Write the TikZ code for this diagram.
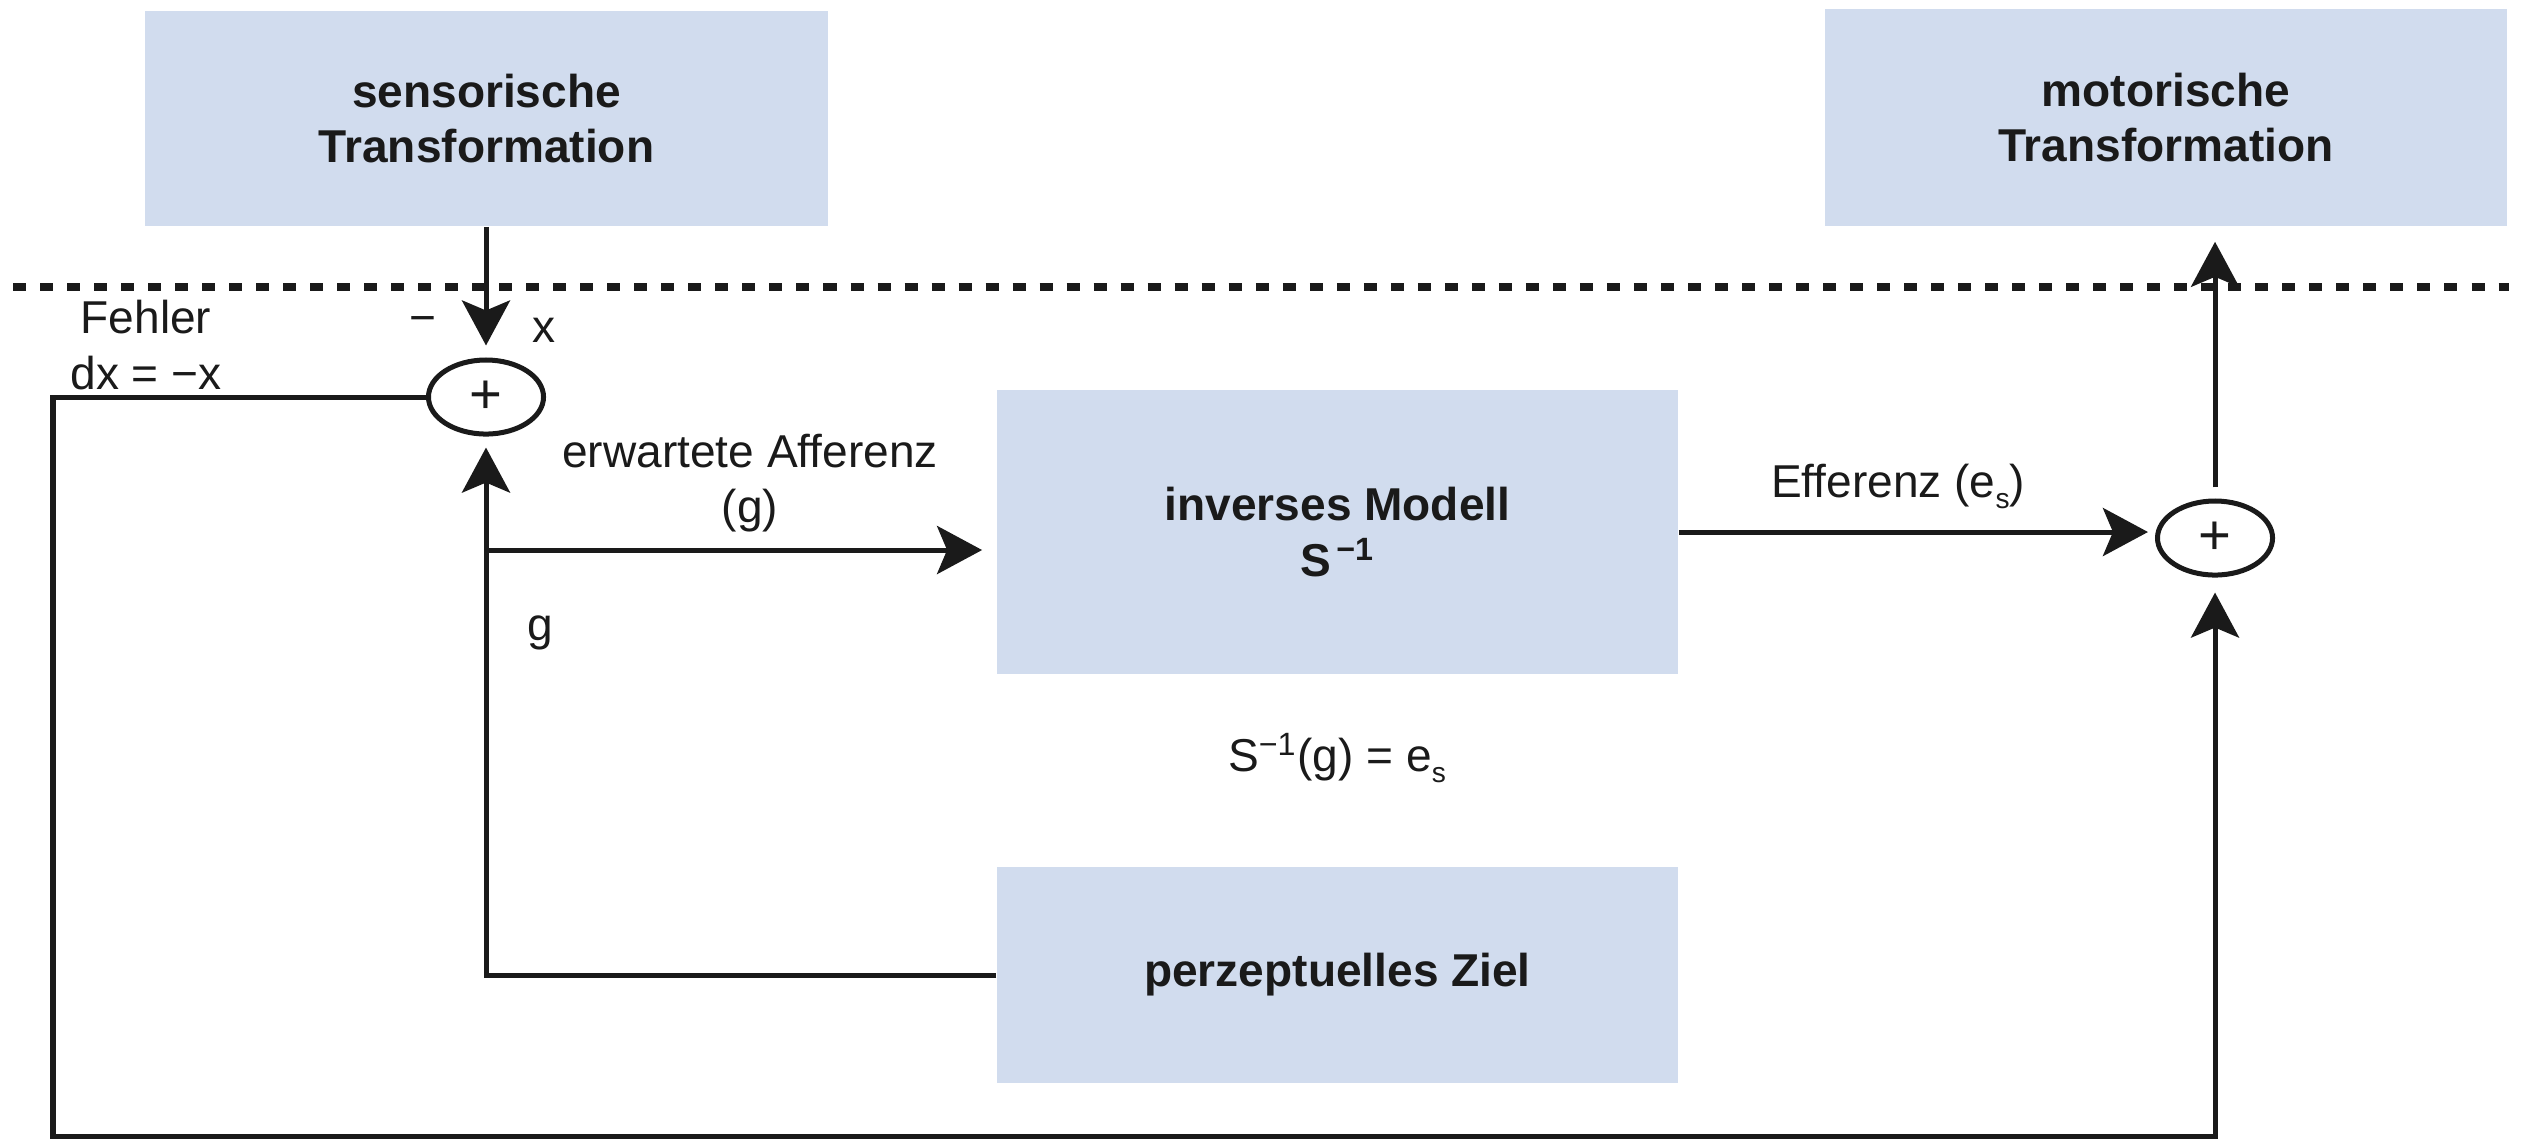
\documentclass[tikz,border=0pt]{standalone}
\usepackage{fontspec}
\setmainfont{Liberation Sans}
\usetikzlibrary{arrows.meta,shapes.geometric,calc}
\definecolor{boxblue}{HTML}{D1DCEE}
\definecolor{ink}{HTML}{1A1A1A}
\begin{document}
\begin{tikzpicture}[x=0.01cm,y=-0.01cm,
  every node/.style={text=ink, font=\fontsize{13.1}{15.7}\selectfont},
  blockbox/.style={fill=boxblue, inner sep=0pt, align=center,
    font=\fontsize{13.1}{15.7}\selectfont\bfseries},
  sumnode/.style={draw=ink, line width=0.05cm, ellipse, fill=white,
    minimum width=1.15cm, minimum height=0.74cm, inner sep=0pt,
    font=\fontsize{16}{16}\selectfont},
  conn/.style={draw=ink, line width=0.05cm},
  arr/.style={conn, -{Stealth[length=0.45cm,width=0.48cm,inset=0.1cm]}},
  lbl/.style={align=center, inner sep=0pt}
]
\useasboundingbox (0,0) rectangle (2522,1141);

% boundary between the transformation stages and the internal loop
\draw[ink, line width=0.08cm, dash pattern=on 0.13cm off 0.14cm] (13,287) -- (2509,287);

% blocks
\node[blockbox, minimum width=6.83cm, minimum height=2.15cm] (sens) at (486.5,118.5) {sensorische\\Transformation};
\node[blockbox, minimum width=6.82cm, minimum height=2.17cm] (mot) at (2166,117.5) {motorische\\Transformation};
\node[blockbox, minimum width=6.81cm, minimum height=2.84cm] (inv) at (1337.5,532) {inverses Modell\\S\textsuperscript{\,−1}};
\node[blockbox, minimum width=6.81cm, minimum height=2.16cm] (perz) at (1337.5,975) {perzeptuelles Ziel};

% summing junctions
\node[sumnode] (s1) at (486,397) {+};
\node[sumnode] (s2) at (2215,538) {+};

% routing points
\coordinate (lc) at (53,1136);
\coordinate (gc) at (486,975);
\coordinate (br) at (486,550);

% connectors
\draw[arr, shorten >=0.12cm] (s1.north |- sens.south) -- (s1.north);
\draw[arr, shorten >=0.15cm] (s1.west) -| (lc) -| (s2.south);
\draw[arr, shorten >=0.11cm] (perz.west) -- (gc) -- (s1.south);
\draw[arr, shorten >=0.14cm] (br) -- (br -| inv.west);
\draw[arr, shorten >=0.07cm] (inv.east) -- (inv.east -| s2.west);
\draw[arr, shorten <=0.11cm, shorten >=0.15cm] (s2.north) -- (s2.north |- mot.south);

% labels
\node[lbl] (fehler) at (146,345) {Fehler\\dx = −x};
\node[lbl] (minus) at (423,325) {−};
\node[lbl] (xl) at (544,330) {x};
\node[lbl] (erw) at (750,483) {erwartete Afferenz\\(g)};
\node[lbl] (gl) at (540,633) {g};
\node[lbl] (eff) at (1898,486) {Efferenz (e\raisebox{-0.45ex}{\fontsize{8}{8}\selectfont s})};
\node[lbl] (form) at (1337,758) {S\textsuperscript{−1}(g) = e\raisebox{-0.45ex}{\fontsize{8}{8}\selectfont s}};
\end{tikzpicture}
\end{document}
